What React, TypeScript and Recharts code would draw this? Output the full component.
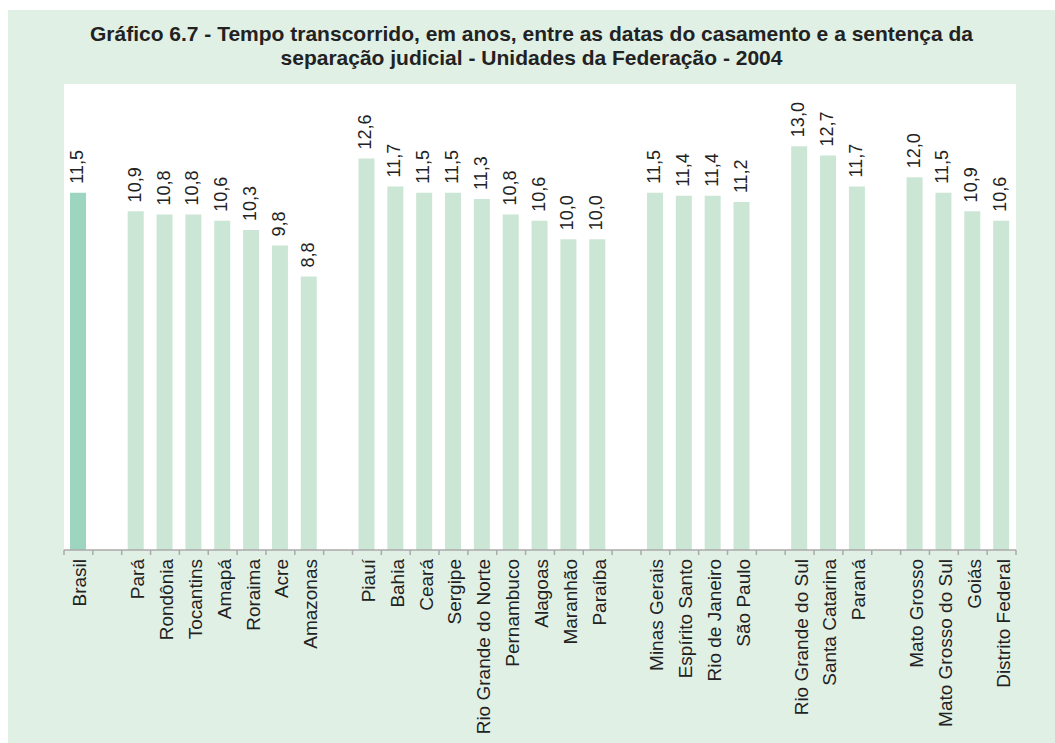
import { BarChart, Bar, XAxis, YAxis, Cell, LabelList } from 'recharts'

// blank entries are the gaps between regions
const categories = [
  'Brasil', '',
  'Pará', 'Rondônia', 'Tocantins', 'Amapá', 'Roraima', 'Acre', 'Amazonas', '',
  'Piauí', 'Bahia', 'Ceará', 'Sergipe', 'Rio Grande do Norte', 'Pernambuco', 'Alagoas', 'Maranhão', 'Paraíba', '',
  'Minas Gerais', 'Espírito Santo', 'Rio de Janeiro', 'São Paulo', '',
  'Rio Grande do Sul', 'Santa Catarina', 'Paraná', '',
  'Mato Grosso', 'Mato Grosso do Sul', 'Goiás', 'Distrito Federal',
]

const values: (number | null)[] = [
  11.5, null,
  10.9, 10.8, 10.8, 10.6, 10.3, 9.8, 8.8, null,
  12.6, 11.7, 11.5, 11.5, 11.3, 10.8, 10.6, 10.0, 10.0, null,
  11.5, 11.4, 11.4, 11.2, null,
  13.0, 12.7, 11.7, null,
  12.0, 11.5, 10.9, 10.6,
]

const data = categories.map((name, i) => ({ key: `c${i}`, name, value: values[i] }))

const PANEL_W = 1047
const PANEL_H = 733
const MARGIN = { top: 74, right: 39, left: 56, bottom: 0 }
const PLOT_W = PANEL_W - MARGIN.left - MARGIN.right
const PLOT_H = 466
const BAND = PLOT_W / data.length
const FONT = '"Liberation Sans", Arial, Helvetica, sans-serif'

const CategoryTick = (props: any) => {
  const { x, y, payload, index } = props
  const left = x - BAND / 2
  const isLast = index === data.length - 1
  const tx = x + 8
  const ty = y + 9
  return (
    <g>
      <line x1={left} y1={y} x2={left} y2={y + 5} stroke="#aaa" strokeWidth={1.5} />
      {isLast && <line x1={x + BAND / 2} y1={y} x2={x + BAND / 2} y2={y + 5} stroke="#aaa" strokeWidth={1.5} />}
      <text
        x={tx}
        y={ty}
        transform={`rotate(-90, ${tx}, ${ty})`}
        textAnchor="end"
        fontSize={19}
        fontFamily={FONT}
        fill="#222"
      >
        {payload.value}
      </text>
    </g>
  )
}

const ValueLabel = (props: any) => {
  const { x, y, width, value } = props
  if (value == null) return null
  const cx = x + width / 2 + 5
  const ty = y - 9
  return (
    <text
      x={cx}
      y={ty}
      transform={`rotate(-90, ${cx}, ${ty})`}
      textAnchor="start"
      fontSize={18}
      fontFamily={FONT}
      fill="#222"
    >
      {Number(value).toFixed(1).replace('.', ',')}
    </text>
  )
}

export default function App() {
  return (
    <div
      style={{
        position: 'absolute',
        left: 8,
        top: 10,
        width: PANEL_W,
        height: PANEL_H,
        background: '#e1f0e5',
        fontFamily: FONT,
      }}
    >
      <div
        style={{
          position: 'absolute',
          left: 0,
          top: 12,
          width: PANEL_W,
          textAlign: 'center',
          fontWeight: 'bold',
          fontSize: 21,
          lineHeight: '24px',
          color: '#222',
        }}
      >
        Gráfico 6.7 - Tempo transcorrido, em anos, entre as datas do casamento e a sentença da
        <br />
        separação judicial - Unidades da Federação - 2004
      </div>
      <div
        style={{
          position: 'absolute',
          left: MARGIN.left,
          top: MARGIN.top,
          width: PLOT_W,
          height: PLOT_H,
          background: '#fff',
        }}
      />
      <div style={{ position: 'absolute', left: 0, top: 0 }}>
        <BarChart width={PANEL_W} height={PANEL_H} data={data} margin={MARGIN}>
          <XAxis
            dataKey="name"
            interval={0}
            height={PANEL_H - MARGIN.top - PLOT_H}
            tickLine={false}
            tickSize={0}
            tickMargin={0}
            axisLine={{ stroke: '#aaa', strokeWidth: 1.5 }}
            tick={<CategoryTick />}
          />
          <YAxis hide domain={[0, 15]} />
          <Bar dataKey="value" barSize={16} isAnimationActive={false}>
            {data.map((d, i) => (
              <Cell key={d.key} fill={i === 0 ? '#9dd5c0' : '#cce6d6'} />
            ))}
            <LabelList dataKey="value" content={<ValueLabel />} />
          </Bar>
        </BarChart>
      </div>
    </div>
  )
}
